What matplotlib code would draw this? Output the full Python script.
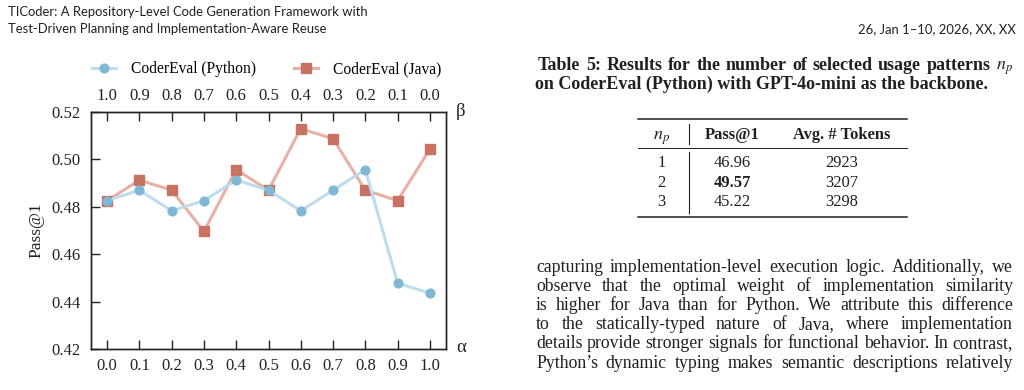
import matplotlib
matplotlib.use("Agg")
import matplotlib.pyplot as plt
from matplotlib.lines import Line2D

# ---------------- data ----------------
alpha_vals = [0.0, 0.1, 0.2, 0.3, 0.4, 0.5, 0.6, 0.7, 0.8, 0.9, 1.0]
alpha_labels = ["0.0", "0.1", "0.2", "0.3", "0.4", "0.5", "0.6", "0.7", "0.8", "0.9", "1.0"]
beta_labels = ["1.0", "0.9", "0.8", "0.7", "0.6", "0.5", "0.4", "0.3", "0.2", "0.1", "0.0"]
python_pass = [0.4826, 0.4870, 0.4783, 0.4826, 0.4913, 0.4870, 0.4783, 0.4870, 0.4957, 0.4478, 0.4435]
java_pass = [0.4826, 0.4913, 0.4870, 0.4696, 0.4957, 0.4870, 0.5130, 0.5087, 0.4870, 0.4826, 0.5043]
y_ticks = [0.42, 0.44, 0.46, 0.48, 0.50, 0.52]
y_tick_labels = ["0.42", "0.44", "0.46", "0.48", "0.50", "0.52"]
series_names = ["CoderEval (Python)", "CoderEval (Java)"]

table_np = ["1", "2", "3"]
table_pass = [46.96, 49.57, 45.22]
table_tokens = ["2923", "3207", "3298"]
table_headers = [r"$n_p$", "Pass@1", "Avg. # Tokens"]

header_left = ["TICoder: A Repository-Level Code Generation Framework with",
               "Test-Driven Planning and Implementation-Aware Reuse"]
header_right = "26, Jan 1\u201310, 2026, XX, XX"
caption_lines = ["Table 5: Results for the number of selected usage patterns $n_p$",
                 "on CoderEval (Python) with GPT-4o-mini as the backbone."]
paragraph_lines = [
    "capturing implementation-level execution logic. Additionally, we",
    "observe that the optimal weight of implementation similarity",
    "is higher for Java than for Python. We attribute this difference",
    "to the statically-typed nature of Java, where implementation",
    "details provide stronger signals for functional behavior. In contrast,",
    "Python\u2019s dynamic typing makes semantic descriptions relatively",
]

# ---------------- setup ----------------
W, H = 1024, 390
plt.rcParams["mathtext.fontset"] = "stix"
fig = plt.figure(figsize=(W / 100, H / 100), dpi=100)
renderer = fig.canvas.get_renderer()
TXT = "#231f20"
AX = "#222222"
SERIF = "Liberation Serif"


def fx(x):
    return x / W


def fy(y):
    return 1 - y / H


def fit_size(s, target, **kw):
    t = fig.text(0, 0, s, fontsize=10, **kw)
    w = t.get_window_extent(renderer).width
    t.remove()
    return 10 * target / w


def justify(line, x0, x1, y, **kw):
    words = line.split()
    texts = [fig.text(0, fy(y), w, ha="left", va="baseline", **kw) for w in words]
    widths = [t.get_window_extent(renderer).width for t in texts]
    gap = (x1 - x0 - sum(widths)) / (len(words) - 1)
    x = x0
    for t, w in zip(texts, widths):
        t.set_x(fx(x))
        x += w + gap


def hline(x0, x1, y, lw):
    fig.add_artist(Line2D([fx(x0), fx(x1)], [fy(y), fy(y)], color=TXT, lw=lw,
                          transform=fig.transFigure))


def vline(x, y0, y1, lw):
    fig.add_artist(Line2D([fx(x), fx(x)], [fy(y0), fy(y1)], color=TXT, lw=lw,
                          transform=fig.transFigure))


# ---------------- page header ----------------
hfs = fit_size(header_left[0], 361, family="Lato")
fig.text(fx(8), fy(16), header_left[0], fontsize=hfs, family="Lato", color=TXT, va="baseline")
fig.text(fx(8), fy(32.7), header_left[1], fontsize=hfs, family="Lato", color=TXT, va="baseline")
fig.text(fx(1016), fy(32.7), header_right, fontsize=hfs, family="Lato", color=TXT,
         va="baseline", ha="right")

# ---------------- chart ----------------
ax = fig.add_axes([fx(91), fy(349), (446 - 91) / W, (349 - 112) / H])
py_marker, py_line = "#7fb8d4", "#bddcec"
jv_marker, jv_line = "#c87262", "#e8b0a6"
ax.plot(alpha_vals, python_pass, color=py_line, lw=2.2, marker="o", ms=6.3,
        mfc=py_marker, mec=py_marker, label=series_names[0], zorder=3)
ax.plot(alpha_vals, java_pass, color=jv_line, lw=2.2, marker="s", ms=7.2,
        mfc=jv_marker, mec=jv_marker, label=series_names[1], zorder=2)
ax.set_xlim(-0.05, 1.05)
ax.set_ylim(0.42, 0.52)
ax.set_xticks(alpha_vals)
ax.set_xticklabels(alpha_labels, family=SERIF, fontsize=12, color=AX)
ax.set_yticks(y_ticks)
ax.set_yticklabels(y_tick_labels, family=SERIF, fontsize=12, color=AX)
ax.tick_params(axis="x", direction="in", length=6.5, width=1.0, pad=6.5, color=AX)
ax.tick_params(axis="y", direction="in", length=6.5, width=1.0, pad=7.5, color=AX)
for sp in ax.spines.values():
    sp.set_linewidth(1.0)
    sp.set_color(AX)
ax.set_ylabel("Pass@1", family=SERIF, fontsize=12.5, color=AX, labelpad=5)

ax2 = ax.twiny()
ax2.set_xlim(ax.get_xlim())
ax2.set_xticks(alpha_vals)
ax2.set_xticklabels(beta_labels, family=SERIF, fontsize=12, color=AX)
ax2.tick_params(axis="x", direction="in", length=6.5, width=1.0, pad=6, color=AX)
for sp in ax2.spines.values():
    sp.set_linewidth(1.0)
    sp.set_color(AX)

fig.text(fx(456), fy(111), "\u03b2", family=SERIF, fontsize=13.5, color=AX,
         ha="left", va="center")
fig.text(fx(456), fy(347), "\u03b1", family=SERIF, fontsize=13.5, color=AX,
         ha="left", va="center")

handles, labels = ax.get_legend_handles_labels()
fig.legend(handles, labels, loc="center left", bbox_to_anchor=(fx(91.5), fy(69)),
           ncol=2, frameon=False, borderpad=0, borderaxespad=0,
           handlelength=1.6, handletextpad=0.95, columnspacing=2.4,
           prop={"family": SERIF, "size": 11.2})

# ---------------- table caption ----------------
cfs = 0.5 * (fit_size(caption_lines[1], 452, family=SERIF, weight="bold")
             + fit_size(caption_lines[0], 470, family=SERIF, weight="bold"))
justify(caption_lines[0], 538, 1013, 70, family=SERIF, weight="bold", fontsize=cfs, color=TXT)
fig.text(fx(535), fy(88.5), caption_lines[1], family=SERIF, weight="bold", fontsize=cfs,
         color=TXT, va="baseline")

# ---------------- table ----------------
tfs = fit_size(table_headers[2], 98, family=SERIF, weight="bold")
col_x = [661.7, 732.3, 841.7]
hline(638, 907, 119, 1.1)
hline(638, 907, 147.5, 0.7)
hline(638, 907, 216.7, 1.1)
vline(689.3, 123.5, 143.5, 0.8)
vline(689.3, 152.5, 213, 0.8)
fig.text(fx(col_x[0]), fy(139.3), table_headers[0], fontsize=tfs * 1.1, color=TXT,
         ha="center", va="baseline")
for cx, h in zip(col_x[1:], table_headers[1:]):
    fig.text(fx(cx), fy(139.3), h, family=SERIF, weight="bold", fontsize=tfs, color=TXT,
             ha="center", va="baseline")
best = max(table_pass)
for i, (n, p, tok) in enumerate(zip(table_np, table_pass, table_tokens)):
    yb = 167.3 + i * 19.3
    fig.text(fx(col_x[0]), fy(yb), n, family=SERIF, fontsize=tfs, color=TXT,
             ha="center", va="baseline")
    fig.text(fx(col_x[1]), fy(yb), f"{p:.2f}", family=SERIF, fontsize=tfs, color=TXT,
             weight="bold" if p == best else "normal", ha="center", va="baseline")
    fig.text(fx(col_x[2]), fy(yb), tok, family=SERIF, fontsize=tfs, color=TXT,
             ha="center", va="baseline")

# ---------------- paragraph ----------------
for i, line in enumerate(paragraph_lines):
    justify(line, 536, 1013, 271.7 + i * 19.2, family=SERIF, fontsize=12.8, color=TXT)

fig.savefig("out.png", dpi=100, facecolor="white")
